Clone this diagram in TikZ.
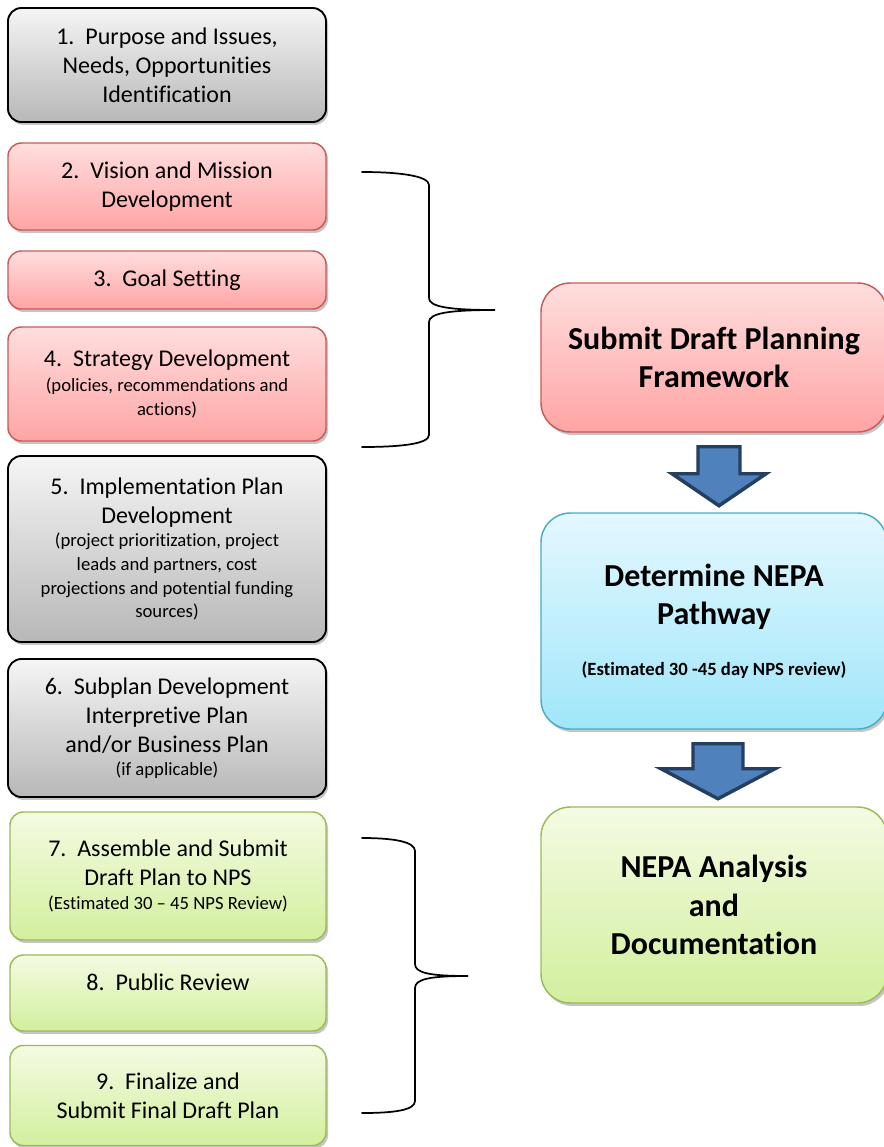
\documentclass[tikz,border=0pt]{standalone}
\usepackage{fontspec}
\setmainfont{Carlito}[Ligatures=NoCommon]
\usetikzlibrary{calc,shadows}

\definecolor{redline}{RGB}{200,90,88}
\definecolor{redtop}{RGB}{255,222,222}
\definecolor{redbot}{RGB}{255,164,164}
\definecolor{blueline}{RGB}{75,172,198}
\definecolor{bluetop}{RGB}{228,248,255}
\definecolor{bluebot}{RGB}{160,230,250}
\definecolor{greenline}{RGB}{155,187,89}
\definecolor{greentop}{RGB}{244,251,226}
\definecolor{greenbot}{RGB}{210,239,158}
\definecolor{arrowfill}{RGB}{79,129,189}
\definecolor{arrowline}{RGB}{36,63,96}

\newcommand{\smalltxt}{\fontsize{14}{17}\selectfont}
\newcommand{\notetxt}{\fontsize{14}{16}\selectfont}

\tikzset{
	stepbox/.style={rounded corners=10pt,minimum width=238.5pt,inner sep=2pt,align=center,
		font=\fontsize{18}{21.75}\selectfont,
		drop shadow={shadow xshift=1.5pt,shadow yshift=-2.2pt,fill=black!45}},
	graybox/.style={stepbox,draw=black,line width=1.4pt,top color=black!4,bottom color=black!28},
	redbox/.style={stepbox,draw=redline,line width=1.1pt,top color=redtop,bottom color=redbot},
	greenbox/.style={stepbox,draw=greenline,line width=1.1pt,top color=greentop,bottom color=greenbot},
	bigbox/.style={rounded corners=22pt,minimum width=259.5pt,align=center,
		font=\fontsize{24}{29}\selectfont\bfseries,
		drop shadow={shadow xshift=1.5pt,shadow yshift=-2.2pt,fill=black!45}},
	blockarrow/.style={draw=arrowline,fill=arrowfill,line width=2.6pt,line join=miter},
	bracket/.style={line width=1.3pt,line cap=round}
}

\begin{document}
\begin{tikzpicture}[x=0.75pt,y=-0.75pt]
	\useasboundingbox (0,0) rectangle (884,1147);

	% left column
	\node[graybox,minimum height=85.5pt] (purpose) at (167,65)
		{1.\ \ Purpose and Issues,\\Needs, Opportunities\\Identification};
	\node[redbox,minimum height=65.25pt] (vision) at (167,186.5)
		{2.\ \ Vision and Mission\\Development};
	\node[redbox,minimum height=43.5pt] (goal) at (167,280)
		{3.\ \ Goal Setting};
	\node[redbox,minimum height=85.5pt] (strategy) at (167,384)
		{4.\ \ Strategy Development\\[-3pt]\smalltxt (policies, recommendations and\\[-4pt]\smalltxt actions)};
	\node[graybox,minimum height=139.5pt] (implement) at (167,549)
		{5.\ \ Implementation Plan\\Development\\[-4pt]\smalltxt (project prioritization, project\\[-4pt]\smalltxt leads and partners, cost\\[-4pt]\smalltxt projections and potential funding\\[-4pt]\smalltxt sources)};
	\node[graybox,minimum height=103.5pt] (subplan) at (167,728)
		{6.\ \ Subplan Development\\Interpretive Plan\\and/or Business Plan\\[-4pt]\smalltxt (if applicable)};
	\node[greenbox,minimum width=237pt,minimum height=96pt] (assemble) at (168,876)
		{7.\ \ Assemble and Submit\\Draft Plan to NPS\\[-4pt]\smalltxt (Estimated 30 – 45 NPS Review)};
	\node[greenbox,minimum width=237pt,minimum height=57pt] (review) at (168,993)
		{8.\ \ Public Review\\[-6pt]};
	\node[greenbox,minimum width=237pt,minimum height=75pt] (finalize) at (168,1095.5)
		{9.\ \ Finalize and\\Submit Final Draft Plan};

	% right column
	\node[bigbox,draw=redline,line width=1.1pt,top color=redtop,bottom color=redbot,
		minimum height=111.75pt] (submit) at (714,357.5)
		{Submit Draft Planning\\Framework};
	\node[bigbox,draw=blueline,line width=1.1pt,top color=bluetop,bottom color=bluebot,
		minimum height=162pt] (pathway) at (714,621)
		{Determine NEPA\\Pathway\\[9pt]\notetxt (Estimated 30 -45 day NPS review)};
	\node[bigbox,draw=greenline,line width=1.1pt,top color=greentop,bottom color=greenbot,
		minimum height=147pt] (analysis) at (714,905)
		{NEPA Analysis\\and\\Documentation};

	% block arrows
	\path (submit.south) ++(5,14) coordinate (a1);
	\draw[blockarrow] (a1) ++(-21,0) -- ++(42,0) -- ++(0,27) -- ++(26,0)
		-- ++(-47,32) -- ++(-47,-32) -- ++(26,0) -- cycle;
	\path (pathway.south) ++(4,14) coordinate (a2);
	\draw[blockarrow] (a2) ++(-25,0) -- ++(50,0) -- ++(0,25) -- ++(32,0)
		-- ++(-57,30) -- ++(-57,-30) -- ++(32,0) -- cycle;

	% braces
	\coordinate (br1a) at (362,172);
	\coordinate (br1c) at (495,310);
	\coordinate (br1b) at (362,447);
	\draw[bracket] (br1a) .. controls (400,172) and (429,176) .. (429,185) -- (429,298)
		.. controls (429,307) and (450,310) .. (br1c)
		.. controls (450,310) and (429,313) .. (429,322) -- (429,435)
		.. controls (429,444) and (400,447) .. (br1b);
	\coordinate (br2a) at (362,838);
	\coordinate (br2c) at (468,976);
	\coordinate (br2b) at (362,1113);
	\draw[bracket] (br2a) .. controls (395,838) and (415,842) .. (415,851) -- (415,964)
		.. controls (415,973) and (430,976) .. (br2c)
		.. controls (430,976) and (415,979) .. (415,988) -- (415,1101)
		.. controls (415,1110) and (395,1113) .. (br2b);
\end{tikzpicture}
\end{document}
